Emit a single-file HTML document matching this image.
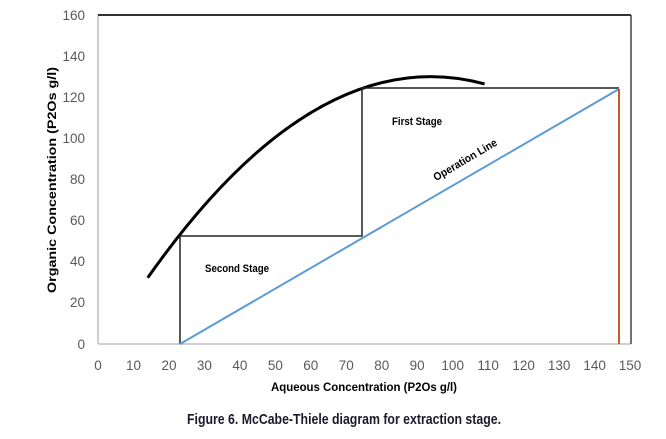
<!DOCTYPE html>
<html><head><meta charset="utf-8"><style>
html,body{margin:0;padding:0;background:#fff;width:666px;height:439px;overflow:hidden}
svg{display:block}
text{font-family:"Liberation Sans",sans-serif}
.t{fill:#595959;font-size:13.5px}
</style></head><body>
<svg width="666" height="439" viewBox="0 0 666 439">
<line x1="98" y1="15" x2="98" y2="344" stroke="#bfbfbf" stroke-width="1.5"/>
<line x1="98" y1="344" x2="631" y2="344" stroke="#bfbfbf" stroke-width="1.5"/>
<line x1="98" y1="15" x2="631" y2="15" stroke="#333" stroke-width="2"/>
<line x1="631" y1="15" x2="631" y2="344" stroke="#444" stroke-width="1.5"/>
<g class="t" text-anchor="end">
<text x="85" y="20">160</text><text x="85" y="61">140</text><text x="85" y="102">120</text>
<text x="85" y="143">100</text><text x="85" y="184">80</text><text x="85" y="225">60</text>
<text x="85" y="266">40</text><text x="85" y="307">20</text><text x="85" y="349">0</text>
</g>
<g class="t" text-anchor="middle">
<text x="98" y="370">0</text><text x="133.5" y="370">10</text><text x="169" y="370">20</text>
<text x="204.4" y="370">30</text><text x="239.9" y="370">40</text><text x="275.4" y="370">50</text>
<text x="310.8" y="370">60</text><text x="346.3" y="370">70</text><text x="381.8" y="370">80</text>
<text x="417.2" y="370">90</text><text x="452.7" y="370">100</text><text x="488.2" y="370">110</text>
<text x="523.6" y="370">120</text><text x="559.1" y="370">130</text><text x="594.6" y="370">140</text>
<text x="630" y="370">150</text>
</g>
<path fill="none" stroke="#000" stroke-width="3" d="M147.7,277.8 Q316.2,38.2 484.6,83.9"/>
<polyline fill="none" stroke="#222" stroke-width="1.5" points="180,344 180,236 362,236 362,88 619,88"/>
<line x1="180" y1="344" x2="619" y2="89" stroke="#5b9bd5" stroke-width="2"/>
<line x1="619" y1="89" x2="619" y2="344" stroke="#c55a2b" stroke-width="2"/>
<text x="392" y="125" font-size="11" font-weight="bold" textLength="50" lengthAdjust="spacingAndGlyphs">First Stage</text>
<text x="205" y="272" font-size="11" font-weight="bold" textLength="64" lengthAdjust="spacingAndGlyphs">Second Stage</text>
<text x="0" y="0" font-size="11" font-weight="bold" text-anchor="middle" transform="translate(467,163) rotate(-30.5)" textLength="72" lengthAdjust="spacingAndGlyphs">Operation Line</text>
<text x="364" y="391" font-size="12" font-weight="bold" text-anchor="middle" textLength="186" lengthAdjust="spacingAndGlyphs">Aqueous Concentration (P2Os g/l)</text>
<text x="0" y="0" font-size="12" font-weight="bold" text-anchor="middle" transform="translate(56,180) rotate(-90)" textLength="226" lengthAdjust="spacingAndGlyphs">Organic Concentration (P2Os g/l)</text>
<text x="344" y="424" font-size="15" font-weight="bold" fill="#1a1a2a" text-anchor="middle" textLength="314" lengthAdjust="spacingAndGlyphs">Figure 6. McCabe-Thiele diagram for extraction stage.</text>
</svg>
</body></html>
